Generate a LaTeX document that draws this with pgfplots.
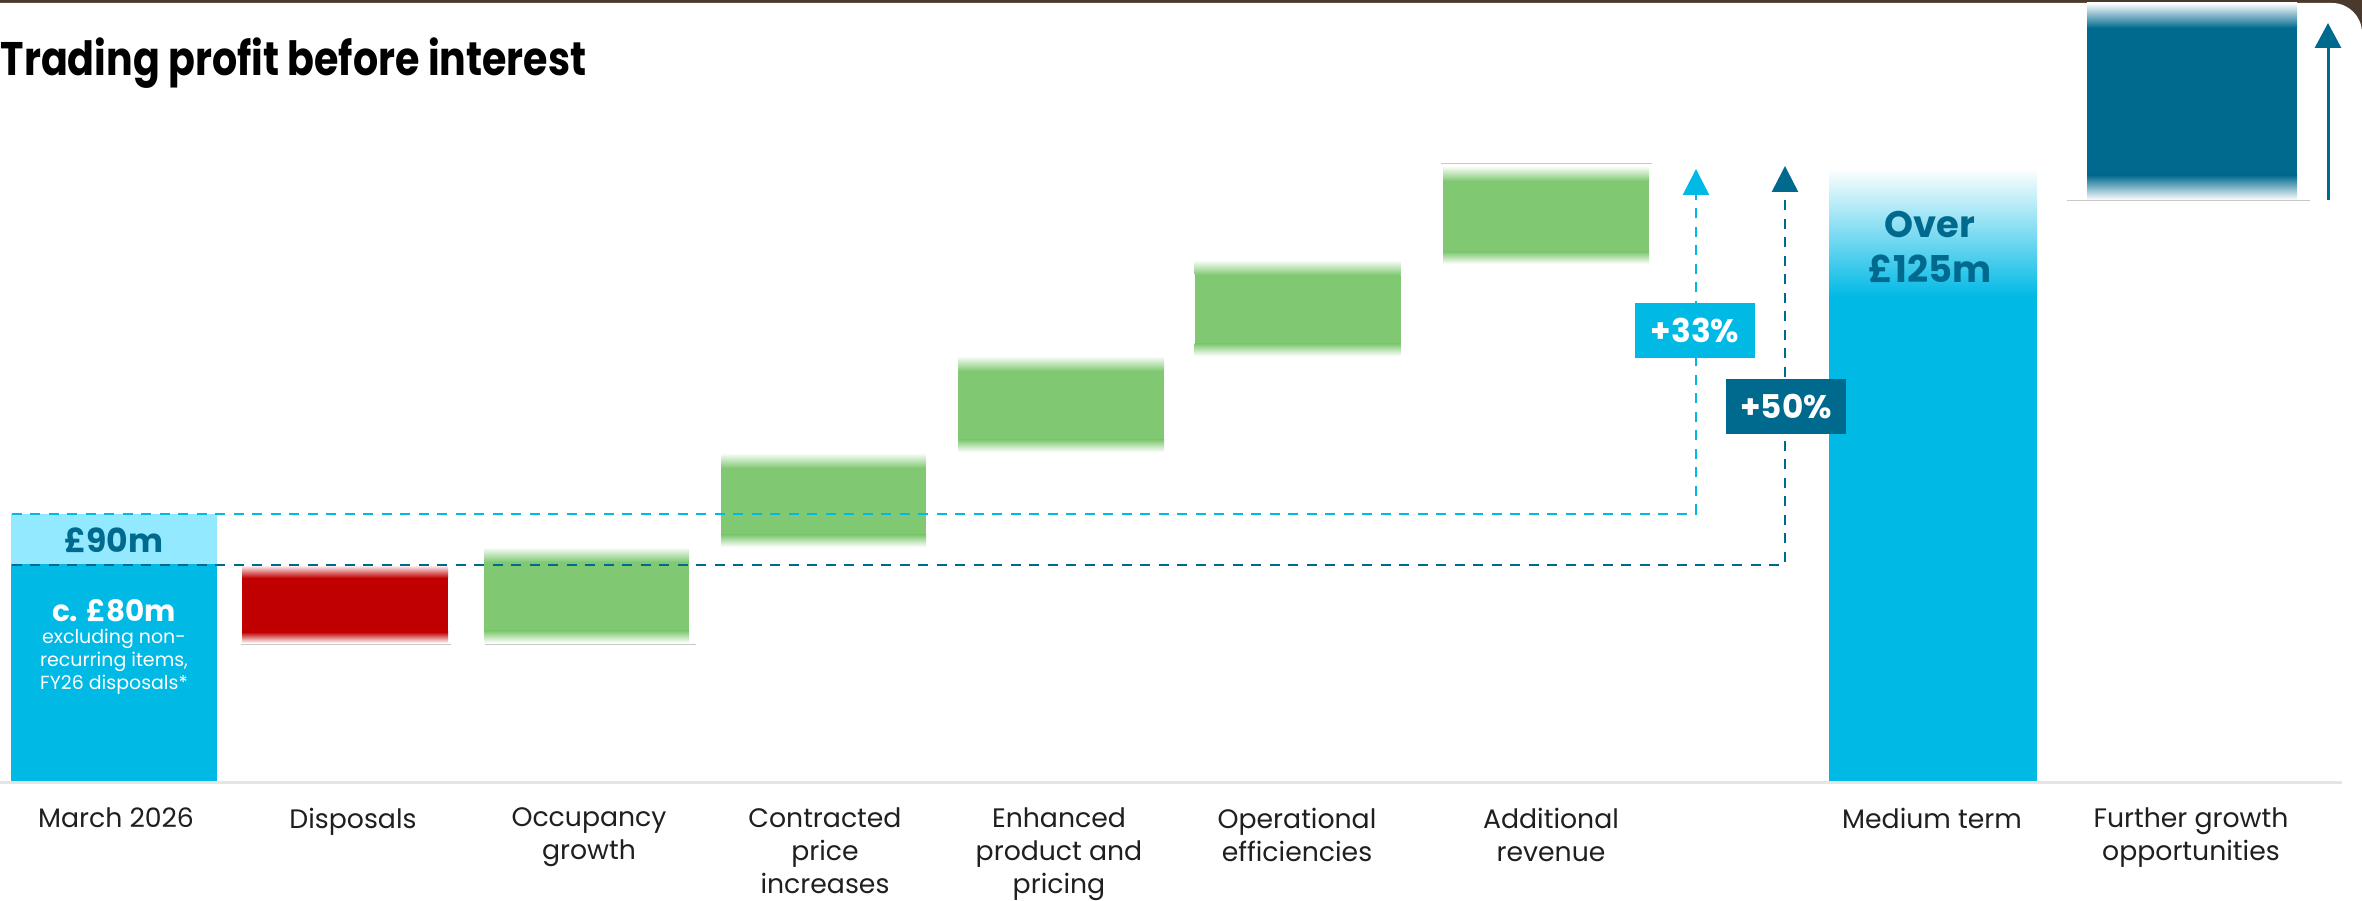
\documentclass[border=0pt]{standalone}
\usepackage{fontspec}
\setmainfont{Poppins}
\usepackage{graphicx}
\usepackage{pgfplots}
\pgfplotsset{compat=1.18}
\usetikzlibrary{arrows.meta}

\definecolor{cyanbar}{HTML}{00B9E5}
\definecolor{lightband}{HTML}{93E9FF}
\definecolor{darkblue}{HTML}{006A8E}
\definecolor{greenbar}{HTML}{80C972}
\definecolor{redbar}{HTML}{C00000}
\definecolor{brownbg}{HTML}{4B3A2B}
\definecolor{shadowgray}{HTML}{C8C8C8}

\pgfplotsset{
  panel/.style={at={(0,0)}, anchor=south west, scale only axis,
    width=236.2mm, height=78.1mm, xmin=0, xmax=2362, ymin=0, ymax=781,
    enlargelimits=false, axis line style={draw=none}, tick style={draw=none},
    xtick=\empty, ytick=\empty, clip=false},
  bars/.style={panel, ybar stacked, bar width=206},
  hidden/.style={draw=none, fill=none},
  fadeup/.style={draw=none, bottom color=white, top color=#1},
  fadedown/.style={draw=none, bottom color=#1, top color=white},
  solidbar/.style={draw=none, fill=#1},
}

\begin{document}
\begin{tikzpicture}
\begin{scope}[x=0.1mm, y=0.1mm]
\fill[brownbg] (0,-117) rectangle (2362,781);
\fill[white] (0,-117) -- (0,778) -- (2332,778) arc[start angle=90, end angle=0, radius=3mm] -- (2362,-117) -- cycle;
\fill[black!10] (0,-3) rectangle (2342,0);
\node[anchor=base west, inner sep=0pt, text=black, font=\bfseries\fontsize{13.4}{16}\selectfont] at (0,705) {\scalebox{0.84}[1]{Trading profit before interest}};
\end{scope}

% March 2026
\begin{axis}[bars, bar width=206]
\addplot[solidbar=cyanbar] coordinates {(114,217)};
\addplot[solidbar=lightband] coordinates {(114,50)};
\end{axis}

% Medium term
\begin{axis}[bars, bar width=208]
\addplot[solidbar=cyanbar] coordinates {(1933,484)};
\addplot[fadedown=cyanbar] coordinates {(1933,129)};
\end{axis}

% Disposals
\begin{axis}[bars, bar width=206]
\addplot[hidden] coordinates {(345,138)};
\addplot[fadeup=redbar] coordinates {(345,11)};
\addplot[solidbar=redbar] coordinates {(345,54)};
\addplot[fadedown=redbar] coordinates {(345,13)};
\end{axis}

% Occupancy growth
\begin{axis}[bars, bar width=205]
\addplot[hidden] coordinates {(586.5,138)};
\addplot[fadeup=greenbar] coordinates {(586.5,12)};
\addplot[solidbar=greenbar] coordinates {(586.5,69)};
\addplot[fadedown=greenbar] coordinates {(586.5,15)};
\end{axis}

% Contracted price increases
\begin{axis}[bars, bar width=205]
\addplot[hidden] coordinates {(823.5,234)};
\addplot[fadeup=greenbar] coordinates {(823.5,12)};
\addplot[solidbar=greenbar] coordinates {(823.5,67)};
\addplot[fadedown=greenbar] coordinates {(823.5,15)};
\end{axis}

% Enhanced product and pricing
\begin{axis}[bars, bar width=206]
\addplot[hidden] coordinates {(1061,329)};
\addplot[fadeup=greenbar] coordinates {(1061,12)};
\addplot[solidbar=greenbar] coordinates {(1061,69)};
\addplot[fadedown=greenbar] coordinates {(1061,15)};
\end{axis}

% Operational efficiencies
\begin{axis}[bars, bar width=206]
\addplot[hidden] coordinates {(1297.5,425)};
\addplot[fadeup=greenbar] coordinates {(1297.5,12)};
\addplot[solidbar=greenbar] coordinates {(1297.5,69)};
\addplot[fadedown=greenbar] coordinates {(1297.5,15)};
\end{axis}

% Additional revenue
\begin{axis}[bars, bar width=206]
\addplot[hidden] coordinates {(1546,517)};
\addplot[fadeup=greenbar] coordinates {(1546,12)};
\addplot[solidbar=greenbar] coordinates {(1546,71)};
\addplot[fadedown=greenbar] coordinates {(1546,15)};
\end{axis}

% Further growth
\begin{axis}[bars, bar width=210]
\addplot[hidden] coordinates {(2192,581)};
\addplot[fadeup=darkblue] coordinates {(2192,25)};
\addplot[solidbar=darkblue] coordinates {(2192,147)};
\addplot[fadedown=darkblue] coordinates {(2192,25)};
\end{axis}

% overlays and category labels
\begin{axis}[panel,
  xtick={116,353,589,825,1059,1297,1551,1932,2191},
  xticklabels={{March 2026},{Disposals},{Occupancy\\growth},{Contracted\\price\\increases},{Enhanced\\product and\\pricing},{Operational\\efficiencies},{Additional\\revenue},{Medium term},{Further growth\\opportunities}},
  major tick length=0pt,
  xticklabel style={align=center, anchor=north, inner sep=0pt, yshift=-2.6mm, text=black!88, font=\fontsize{7.6}{9.4}\selectfont},
]
% thin grey edges
\addplot[shadowgray, line width=0.1mm] coordinates {(241,136) (451,136)};
\addplot[shadowgray, line width=0.1mm] coordinates {(485,136) (696,136)};
\addplot[shadowgray, line width=0.1mm] coordinates {(1441,617) (1652,617)};
\addplot[shadowgray, line width=0.1mm] coordinates {(2067,580) (2310,580)};
% dashed guide lines
\addplot[cyanbar, line width=0.25mm, dash pattern=on 1mm off 0.85mm, -{Triangle[width=2.6mm,length=2.6mm]}] coordinates {(12,267) (1696,267) (1696,612)};
\addplot[darkblue, line width=0.25mm, dash pattern=on 1mm off 0.85mm, -{Triangle[width=2.6mm,length=2.6mm]}] coordinates {(12,216) (1785,216) (1785,615)};
% further growth arrow
\addplot[darkblue, line width=0.3mm, -{Triangle[width=2.6mm,length=2.5mm]}] coordinates {(2328,581) (2328,758)};
% boxes
\node[fill=cyanbar, text=white, minimum width=12mm, minimum height=5.5mm, inner sep=0pt, font=\bfseries\fontsize{9.3}{11}\selectfont] at (axis cs:1695,450.5) {+33\%};
\node[fill=darkblue, text=white, minimum width=12mm, minimum height=5.5mm, inner sep=0pt, font=\bfseries\fontsize{9.3}{11}\selectfont] at (axis cs:1786,374.5) {+50\%};
% bar texts
\node[anchor=base, inner sep=0pt, text=darkblue, font=\bfseries\fontsize{9.4}{11}\selectfont] at (axis cs:114,228) {£90m};
\node[anchor=base, inner sep=0pt, text=white, font=\bfseries\fontsize{8.4}{10}\selectfont] at (axis cs:114,159) {c. £80m};
\node[anchor=base, inner sep=0pt, text=white, font=\fontsize{5.4}{6.8}\selectfont] at (axis cs:114,137) {excluding non-};
\node[anchor=base, inner sep=0pt, text=white, font=\fontsize{5.4}{6.8}\selectfont] at (axis cs:114,114) {recurring items,};
\node[anchor=base, inner sep=0pt, text=white, font=\fontsize{5.4}{6.8}\selectfont] at (axis cs:114,91) {FY26 disposals*};
\node[anchor=base, inner sep=0pt, text=darkblue, font=\bfseries\fontsize{10.5}{12}\selectfont] at (axis cs:1930,543) {Over};
\node[anchor=base, inner sep=0pt, text=darkblue, font=\bfseries\fontsize{10.5}{12}\selectfont] at (axis cs:1930,498) {£125m};
\end{axis}
\end{tikzpicture}
\end{document}
